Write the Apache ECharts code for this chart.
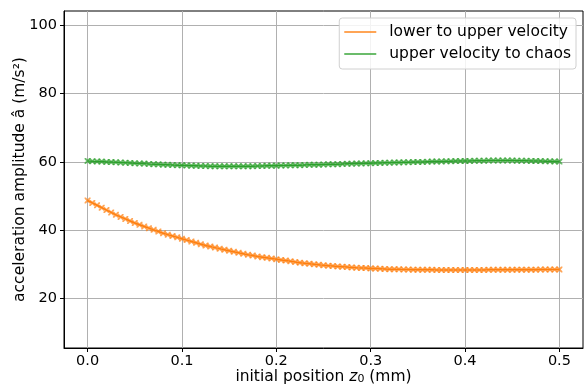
<!DOCTYPE html>
<html>
<head>
<meta charset="utf-8">
<script src="https://cdn.jsdelivr.net/npm/echarts@6/dist/echarts.min.js"></script>
<style>
html,body{margin:0;padding:0;background:#fff;}
#c{width:588px;height:385px;}
</style>
</head>
<body>
<div id="c"></div>
<script>
const xValues = [0.000,0.005,0.010,0.015,0.020,0.025,0.030,0.035,0.040,0.045,0.050,0.055,0.060,0.065,0.070,0.075,0.080,0.085,0.090,0.095,
0.100,0.105,0.110,0.115,0.120,0.125,0.130,0.135,0.140,0.145,0.150,0.155,0.160,0.165,0.170,0.175,0.180,0.185,0.190,0.195,
0.200,0.205,0.210,0.215,0.220,0.225,0.230,0.235,0.240,0.245,0.250,0.255,0.260,0.265,0.270,0.275,0.280,0.285,0.290,0.295,
0.300,0.305,0.310,0.315,0.320,0.325,0.330,0.335,0.340,0.345,0.350,0.355,0.360,0.365,0.370,0.375,0.380,0.385,0.390,0.395,
0.400,0.405,0.410,0.415,0.420,0.425,0.430,0.435,0.440,0.445,0.450,0.455,0.460,0.465,0.470,0.475,0.480,0.485,0.490,0.495,0.500];

const lowerToUpper = [48.7,48.0,47.3,46.6,45.9,45.2,44.5,43.9,43.3,42.7,42.1,41.6,41.1,40.6,40.1,39.6,39.1,38.7,38.3,37.9,
37.5,37.1,36.7,36.3,35.9,35.5,35.2,34.9,34.6,34.3,34.0,33.7,33.4,33.1,32.8,32.6,32.3,32.1,31.9,31.7,
31.5,31.3,31.1,30.9,30.7,30.5,30.3,30.2,30.0,29.9,29.7,29.6,29.5,29.4,29.3,29.2,29.1,29.0,28.95,28.9,
28.8,28.75,28.7,28.65,28.6,28.6,28.55,28.5,28.5,28.45,28.45,28.4,28.4,28.4,28.35,28.35,28.35,28.35,28.35,28.35,
28.35,28.35,28.35,28.35,28.35,28.4,28.4,28.4,28.4,28.4,28.4,28.45,28.45,28.45,28.45,28.45,28.5,28.5,28.5,28.5,28.5];

const upperToChaos = [60.3,60.2,60.15,60.1,60.0,59.95,59.9,59.8,59.75,59.7,59.6,59.55,59.5,59.4,59.35,59.3,59.2,59.15,59.1,59.05,
59.0,58.95,58.9,58.85,58.8,58.8,58.75,58.75,58.7,58.7,58.7,58.7,58.7,58.7,58.75,58.75,58.8,58.8,58.85,58.85,
58.9,58.95,58.95,59.0,59.05,59.05,59.1,59.15,59.15,59.2,59.25,59.3,59.3,59.35,59.4,59.45,59.45,59.5,59.55,59.6,
59.6,59.65,59.7,59.75,59.75,59.8,59.85,59.9,59.9,59.95,60.0,60.0,60.05,60.1,60.1,60.15,60.2,60.2,60.25,60.25,
60.3,60.3,60.35,60.35,60.35,60.4,60.4,60.4,60.4,60.4,60.4,60.35,60.35,60.35,60.3,60.3,60.25,60.2,60.2,60.15,60.1];

const seriesNames = ['lower to upper velocity', 'upper velocity to chaos'];
const xTicks = [0.0, 0.1, 0.2, 0.3, 0.4, 0.5];
const yTicks = [20, 40, 60, 80, 100];

const FONT = 'DejaVu Sans';
const xMark = 'path://M0,0L2.2,0L5,2.8L7.8,0L10,0L10,2.2L7.2,5L10,7.8L10,10L7.8,10L5,7.2L2.2,10L0,10L0,7.8L2.8,5L0,2.2Z';

function pairs(ys){ return xValues.map((x,i)=>[x, ys[i]]); }

const chart = echarts.init(document.getElementById('c'), null, {renderer:'canvas'});
chart.setOption({
  animation: false,
  backgroundColor: '#fff',
  textStyle: {fontFamily: FONT},
  grid: {left: 64, right: 5, top: 11, bottom: 37, show: true, borderColor: '#000', borderWidth: 1, outerBoundsMode: 'none', containLabel: false},
  legend: {
    data: seriesNames,
    orient: 'vertical',
    right: 12, top: 18,
    itemWidth: 32, itemHeight: 2,
    itemGap: 4,
    icon: 'rect',
    padding: [5, 5, 6, 5],
    backgroundColor: 'rgba(255,255,255,0.85)',
    borderColor: '#d0d0d0', borderWidth: 1, borderRadius: 3,
    textStyle: {fontFamily: FONT, fontSize: 15.5, lineHeight: 18, color: '#000', padding: [0,0,0,8]}
  },
  xAxis: {
    type: 'value', min: -0.025, max: 0.525,
    name: '{n|initial position }{i|z}{s|0}{n| (mm)}',
    nameLocation: 'middle', nameGap: 19, nameMoveOverlap: false,
    nameTextStyle: {
      rich: {
        n: {fontFamily: FONT, fontSize: 15.5, color: '#000', verticalAlign: 'bottom', lineHeight: 18},
        i: {fontFamily: FONT, fontSize: 15.5, fontStyle: 'italic', color: '#000', verticalAlign: 'bottom', lineHeight: 18},
        s: {fontFamily: FONT, fontSize: 11, color: '#000', verticalAlign: 'bottom', lineHeight: 10}
      }
    },
    axisLine: {show: true, onZero: false, lineStyle: {color: '#000', width: 1}},
    axisTick: {show: true, length: 4, inside: false, customValues: xTicks, lineStyle: {color: '#000'}},
    axisLabel: {customValues: xTicks, margin: 6, fontSize: 14.5, color: '#000', fontFamily: FONT, formatter: v => v.toFixed(1)},
    splitLine: {show: true, lineStyle: {color: '#b0b0b0', width: 1}}
  },
  yAxis: {
    type: 'value', min: 5.5, max: 104.2,
    name: 'acceleration amplitude â (m/s²)',
    nameLocation: 'middle', nameGap: 36, nameMoveOverlap: false,
    nameTextStyle: {fontFamily: FONT, fontSize: 15.5, color: '#000'},
    axisLine: {show: true, onZero: false, lineStyle: {color: '#000', width: 1}},
    axisTick: {show: true, length: 4, inside: false, customValues: yTicks, lineStyle: {color: '#000'}},
    axisLabel: {customValues: yTicks, margin: 7, fontSize: 14.5, color: '#000', fontFamily: FONT},
    splitLine: {show: true, lineStyle: {color: '#b0b0b0', width: 1}}
  },
  series: [
    {
      name: seriesNames[0], type: 'line', data: pairs(lowerToUpper),
      color: '#ff7f0e',
      showSymbol: true, symbol: xMark, symbolSize: 6,
      itemStyle: {color: '#ff7f0e', opacity: 0.7},
      lineStyle: {color: '#ff7f0e', width: 1.5}
    },
    {
      name: seriesNames[1], type: 'line', data: pairs(upperToChaos),
      color: '#2ca02c',
      showSymbol: true, symbol: xMark, symbolSize: 6,
      itemStyle: {color: '#2ca02c', opacity: 0.7},
      lineStyle: {color: '#2ca02c', width: 1.5}
    }
  ]
});
</script>
</body>
</html>
